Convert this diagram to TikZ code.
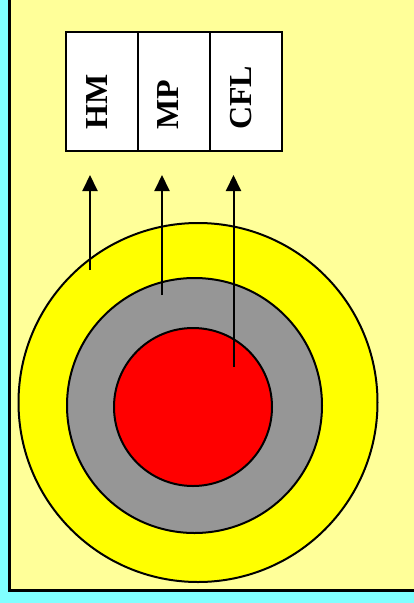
\documentclass[tikz,border=0pt]{standalone}
\usepackage{fontspec}
\setmainfont{Liberation Serif}
\usepackage{xcolor}
\usetikzlibrary{positioning,arrows.meta}
\definecolor{pagecyan}{RGB}{128,255,255}
\definecolor{panelyellow}{RGB}{255,255,153}
\definecolor{ringyellow}{RGB}{255,255,0}
\definecolor{ringgray}{RGB}{150,150,150}
\definecolor{ringred}{RGB}{255,0,0}

\begin{document}
\begin{tikzpicture}[x=1pt, y=-1pt,
    cell/.style={draw, line width=2pt, fill=white, minimum width=72pt, minimum height=119pt, inner sep=0pt, outer sep=0pt},
    layer/.style={circle, draw, line width=2pt, inner sep=0pt},
    boxtext/.style={rotate=90, anchor=base west, inner sep=0pt, font=\fontsize{32}{32}\selectfont\bfseries},
    flow/.style={line width=2pt, -{Triangle[width=15pt,length=16pt]}}]
    \useasboundingbox (0,0) rectangle (414,603);
    \clip (0,0) rectangle (414,603);
    \fill[pagecyan] (0,0) rectangle (414,603);
    \draw[fill=panelyellow, line width=2.7pt] (9.7,-10) rectangle (430,590.5);

    % the three boxes on top
    \node[cell] (hmbox) at (102,91) {};
    \node[cell, right=0pt of hmbox] (mpbox) {};
    \node[cell, right=0pt of mpbox] (cflbox) {};
    \node[boxtext] (hm) at (107,130) {HM};
    \node[boxtext] (mp) at (178,130) {MP};
    \node[boxtext] (cfl) at (251,130) {CFL};

    % the rings
    \node[layer, fill=ringyellow, minimum size=359pt] (outer) at (198,402.5) {};
    \node[layer, fill=ringgray, minimum size=255pt] (middle) at (194.5,405.5) {};
    \node[layer, fill=ringred, minimum size=158pt] (core) at (193,407) {};

    \coordinate (tipline) at (0,175);
    \coordinate (hmtail) at (90,270);
    \coordinate (mptail) at (162,295);
    \coordinate (cfltail) at (233.5,367);
    \draw[flow] (hmtail) -- (hmtail |- tipline);
    \draw[flow] (mptail) -- (mptail |- tipline);
    \draw[flow] (cfltail) -- (cfltail |- tipline);
\end{tikzpicture}
\end{document}
